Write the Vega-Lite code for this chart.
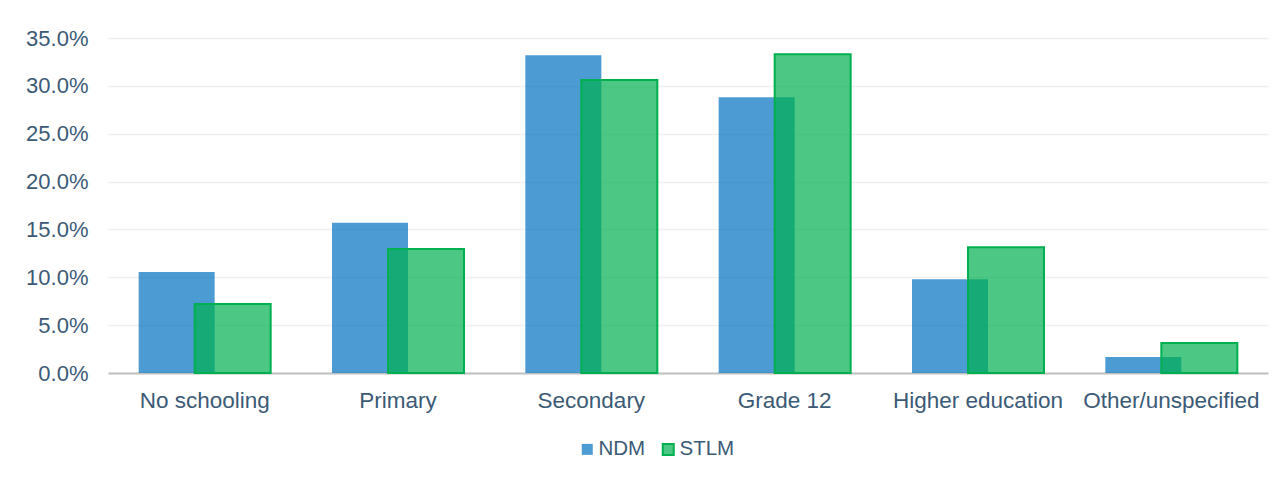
{
  "$schema": "https://vega.github.io/schema/vega-lite/v6.json",
  "width": 1160,
  "height": 335,
  "autosize": {"type": "none"},
  "padding": {"left": 108, "top": 38, "right": 18, "bottom": 105},
  "background": "white",
  "data": {
    "values": [
      {"level": "No schooling", "series": "NDM", "value": 0.1055},
      {"level": "No schooling", "series": "STLM", "value": 0.072},
      {"level": "Primary", "series": "NDM", "value": 0.157},
      {"level": "Primary", "series": "STLM", "value": 0.1295},
      {"level": "Secondary", "series": "NDM", "value": 0.332},
      {"level": "Secondary", "series": "STLM", "value": 0.306},
      {"level": "Grade 12", "series": "NDM", "value": 0.288},
      {"level": "Grade 12", "series": "STLM", "value": 0.333},
      {"level": "Higher education", "series": "NDM", "value": 0.098},
      {"level": "Higher education", "series": "STLM", "value": 0.1315},
      {"level": "Other/unspecified", "series": "NDM", "value": 0.0167},
      {"level": "Other/unspecified", "series": "STLM", "value": 0.0313}
    ]
  },
  "encoding": {
    "x": {
      "field": "level",
      "type": "nominal",
      "sort": null,
      "scale": {"paddingInner": 0, "paddingOuter": 0},
      "axis": {
        "title": null,
        "labelAngle": 0,
        "ticks": false,
        "domainColor": "#bfbfbf",
        "domainWidth": 2,
        "labelPadding": 16,
        "labelFontSize": 22.5,
        "grid": false
      }
    },
    "y": {
      "field": "value",
      "type": "quantitative",
      "scale": {"domain": [0, 0.35], "nice": false},
      "axis": {
        "title": null,
        "format": ".1%",
        "values": [0, 0.05, 0.1, 0.15, 0.2, 0.25, 0.3, 0.35],
        "domain": false,
        "ticks": false,
        "labelPadding": 20,
        "gridColor": "#efefef",
        "gridWidth": 1.5
      }
    },
    "color": {
      "field": "series",
      "type": "nominal",
      "scale": {"domain": ["NDM", "STLM"], "range": ["rgba(0,112,192,0.7)", "rgba(0,176,80,0.7)"]},
      "legend": {"title": null}
    },
    "stroke": {
      "field": "series",
      "type": "nominal",
      "scale": {"domain": ["NDM", "STLM"], "range": ["rgba(0,0,0,0)", "#00b050"]},
      "legend": {"title": null}
    }
  },
  "layer": [
    {
      "transform": [{"filter": "datum.series === 'NDM'"}],
      "mark": {"type": "bar", "width": 76, "xOffset": -28, "strokeWidth": 0}
    },
    {
      "transform": [{"filter": "datum.series === 'STLM'"}],
      "mark": {"type": "bar", "width": 76, "xOffset": 28, "strokeWidth": 2}
    }
  ],
  "config": {
    "font": "Liberation Sans",
    "view": {"stroke": null},
    "axis": {"labelFont": "Liberation Sans", "labelFontSize": 22, "labelColor": "#3b5a76"},
    "legend": {
      "orient": "none",
      "legendX": 469,
      "legendY": 401,
      "direction": "horizontal",
      "labelFont": "Liberation Sans",
      "labelFontSize": 20.5,
      "labelColor": "#3b5a76",
      "symbolType": "square",
      "symbolSize": 121,
      "symbolStrokeWidth": 2,
      "labelOffset": 1,
      "columnPadding": 12,
      "padding": 0
    }
  }
}
